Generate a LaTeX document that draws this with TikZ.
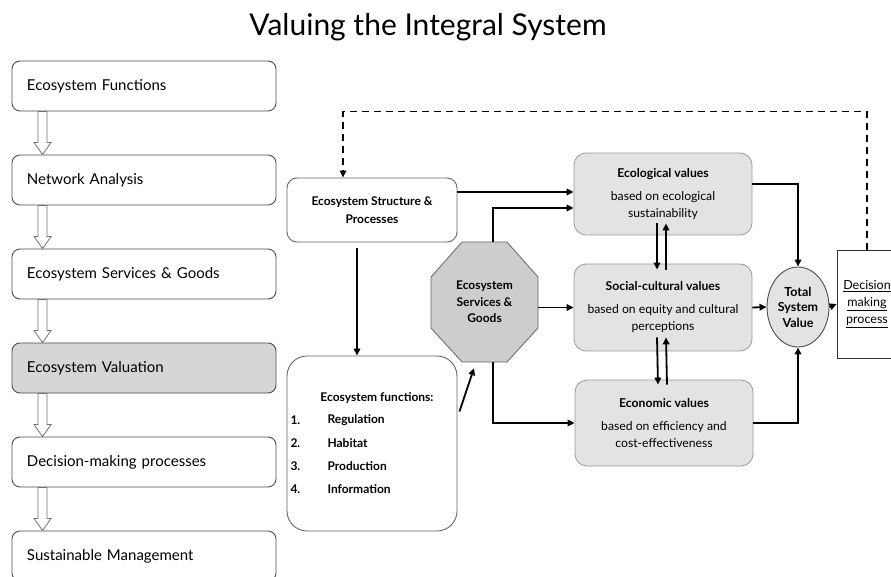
\documentclass[tikz,border=0pt]{standalone}
\usepackage{fontspec}
\setmainfont{Lato}
\usetikzlibrary{positioning,calc,arrows.meta,shapes.geometric}
\definecolor{valgrey}{HTML}{E3E3E3}
\definecolor{octgrey}{HTML}{CDCDCD}
\definecolor{stagegrey}{HTML}{D6D6D6}

\begin{document}
\begin{tikzpicture}[x=1pt,y=-1pt,
  stage/.style={draw=black!70, line width=0.9pt, rounded corners=8pt,
    minimum width=264pt, minimum height=50pt, text width=234pt, align=left,
    font=\fontsize{15}{17}\selectfont},
  hollow/.style={draw=black!55, fill=white, line width=0.8pt},
  valbox/.style={draw=black!40, line width=0.8pt, fill=valgrey, rounded corners=12pt,
    minimum width=178pt, align=center, font=\fontsize{12.2}{17}\selectfont},
  listtext/.style={anchor=west, font=\bfseries\fontsize{12}{13}\selectfont},
  link/.style={line width=1.8pt, -{Triangle[length=7pt,width=6.5pt]}},
  back/.style={line width=1.5pt, dash pattern=on 7pt off 5pt,
    -{Triangle[length=7pt,width=6.5pt]}}]
  \useasboundingbox (0,0) rectangle (891,577);

  \node[font=\fontsize{30}{34}\selectfont] (title) at (428,27) {Valuing the Integral System};

  % left column: the steps
  \foreach \n/\y/\c/\t in {1/86/white/Ecosystem Functions,
      2/180/white/Network Analysis,
      3/274/white/Ecosystem Services \& Goods,
      4/368/stagegrey/Ecosystem Valuation,
      5/462/white/Decision-making processes,
      6/556/white/Sustainable Management}
    \node[stage, fill=\c] (s\n) at (144,\y) {\t};
  \foreach \a/\b in {1/2,2/3,3/4,4/5,5/6}
    \draw[hollow] let \p1=([xshift=31pt]s\a.south west),
                      \p2=([xshift=31pt]s\b.north west) in
      (\x1-4.5pt,\y1) -- (\x1-4.5pt,\y2+12pt) -- (\x1-8.5pt,\y2+12pt) -- (\x1,\y2)
      -- (\x1+8.5pt,\y2+12pt) -- (\x1+4.5pt,\y2+12pt) -- (\x1+4.5pt,\y1) -- cycle;

  % structure and functions
  \node[draw=black!60, line width=0.9pt, rounded corners=10pt, minimum width=170pt,
    minimum height=64pt, align=center, font=\bfseries\fontsize{12}{18}\selectfont]
    (esp) at (372,210) {Ecosystem Structure \&\\Processes};
  \node[draw=black!60, line width=0.9pt, rounded corners=20pt, minimum width=170pt,
    minimum height=175pt] (fun) at (372,443.5) {};
  \node[font=\bfseries\fontsize{12}{13}\selectfont] (funhead) at (377,398) {Ecosystem functions:};
  \foreach \i/\y/\t in {1/420/Regulation,2/443/Habitat,3/466/Production,4/489/Information} {
    \node[listtext] (num\i) at (287,\y) {\i.};
    \node[listtext] (item\i) at (324,\y) {\t};
  }

  % services and goods
  \filldraw[draw=black!60, line width=0.8pt, fill=octgrey] (431,277) -- (431,328) -- (462,362)
    -- (507,362) -- (538,328) -- (538,277) -- (507,242) -- (462,242) -- cycle;
  \node[minimum width=107pt, minimum height=120pt, align=center,
    font=\bfseries\fontsize{12}{16.5}\selectfont] (ess) at (484.5,302)
    {Ecosystem\\Services \&\\Goods};

  % the three kinds of value
  \node[valbox, minimum height=82pt] (eco) at (663,194)
    {\textbf{Ecological values}\\[6pt]based on ecological\\sustainability};
  \node[valbox, minimum height=87pt] (soc) at (663,307.5)
    {\textbf{Social-cultural values}\\[6pt]based on equity and cultural\\perceptions};
  \node[valbox, minimum height=86pt] (econ) at (664,423)
    {\textbf{Economic values}\\[6pt]based on efficiency and\\cost-effectiveness};

  \node[ellipse, draw=black!70, line width=0.9pt, fill=valgrey, minimum width=62pt,
    minimum height=80pt, inner sep=0pt, align=center,
    font=\bfseries\fontsize{12.5}{15.5}\selectfont] (tsv) at (798,307) {Total\\System\\Value};
  \node[draw=black!80, line width=0.8pt, minimum width=60pt, minimum height=108pt,
    align=center, font=\fontsize{12.5}{17}\selectfont] (dec) at (867,304)
    {\underline{Decision}\\\underline{making}\\\underline{process}};

  % connectors
  \draw[link] ([xshift=-15pt,yshift=-6pt]esp.south) -- ([xshift=-15pt]fun.north);
  \draw[link] ([xshift=2pt,yshift=32pt]fun.east) -- ([xshift=-10.5pt,yshift=-6pt]ess.south);
  \draw[link] ([yshift=18pt]esp.east) -- ([yshift=2pt]eco.west);
  \draw[link] ([xshift=8.5pt]ess.north) |- ([yshift=-14pt]eco.west);
  \draw[link] (ess.east |- soc.west) -- (soc.west);
  \draw[link] ([xshift=8.5pt]ess.south) |- (econ.west);

  \draw[link] ([xshift=-6pt,yshift=12pt]eco.south) -- ([xshift=-6pt,yshift=-6pt]soc.north);
  \draw[link] ([xshift=3pt,yshift=-6pt]soc.north) -- ([xshift=3pt,yshift=12pt]eco.south);
  \draw[link] ([xshift=-6pt,yshift=14pt]soc.south) -- ([xshift=-6pt,yshift=-5pt]econ.north);
  \draw[link] ([xshift=3pt,yshift=-5pt]econ.north) -- ([xshift=3pt,yshift=14pt]soc.south);

  \draw[link] ([yshift=10pt]eco.east) -| (tsv.north);
  \draw[link] (soc.east) -- (tsv.west);
  \draw[link] (econ.east) -| (tsv.south);
  \draw[link] (tsv.east) -- (dec.west);

  \draw[back] (dec.north) -- ++(0,-138) -| ([xshift=-29pt]esp.north);
\end{tikzpicture}
\end{document}
